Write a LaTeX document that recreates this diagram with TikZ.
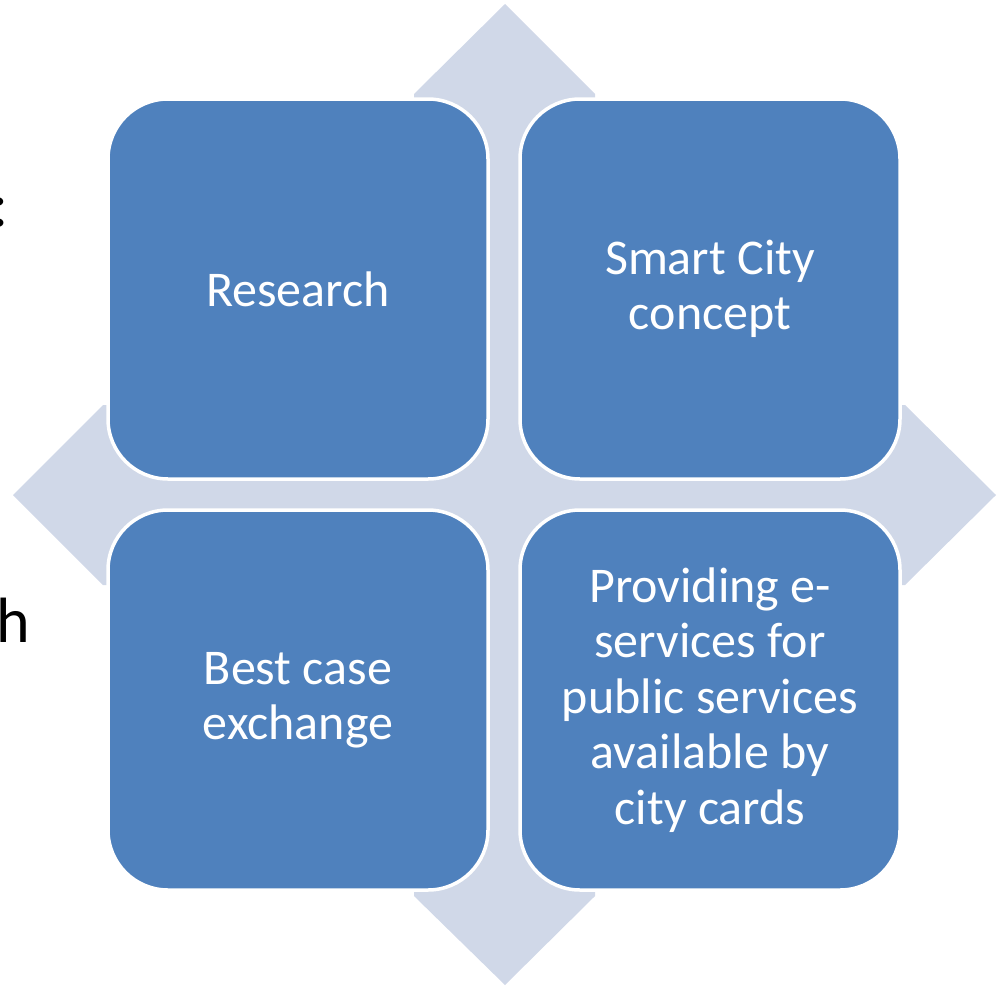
\documentclass[tikz,border=0pt]{standalone}
\usepackage{fontspec}
\setmainfont{Carlito}
\definecolor{boxblue}{HTML}{4F81BD}
\definecolor{crossbg}{HTML}{D0D8E8}
\tikzset{
  box/.style={draw=white, line width=3.5pt, fill=boxblue, rounded corners=60pt,
    minimum width=380pt, minimum height=380pt, inner sep=0pt, align=center,
    text=white, font=\fontsize{50}{55.5}\selectfont},
  edgetext/.style={inner sep=0pt, text=black, font=\fontsize{64}{70}\selectfont},
}
\begin{document}
\begin{tikzpicture}[x=1pt, y=-1pt]
\useasboundingbox (0,0) rectangle (1001,985);
\clip (0,0) rectangle (1001,985);
% background four-way arrow cross
\fill[crossbg] (505,4) -- (595,94) -- (595,405) -- (905,405) -- (996,495)
  -- (905,585) -- (595,585) -- (595,896) -- (505,985) -- (414,896)
  -- (414,585) -- (103,585) -- (13,495) -- (103,405) -- (414,405)
  -- (414,94) -- cycle;
% clipped slide text at the left edge
\node[edgetext, anchor=base west] (colon) at (-9,226) {:};
\node[edgetext, anchor=base west] (hchar) at (-4,642) {h};
% four boxes
\node[box] (tl) at (298,289) {Research};
\node[box] (tr) at (710,289) {Smart City\\concept};
\node[box] (bl) at (298,700) {Best case\\exchange};
\node[box] (br) at (710,700) {Providing e-\\services for\\public services\\available by\\city cards};
\end{tikzpicture}
\end{document}
